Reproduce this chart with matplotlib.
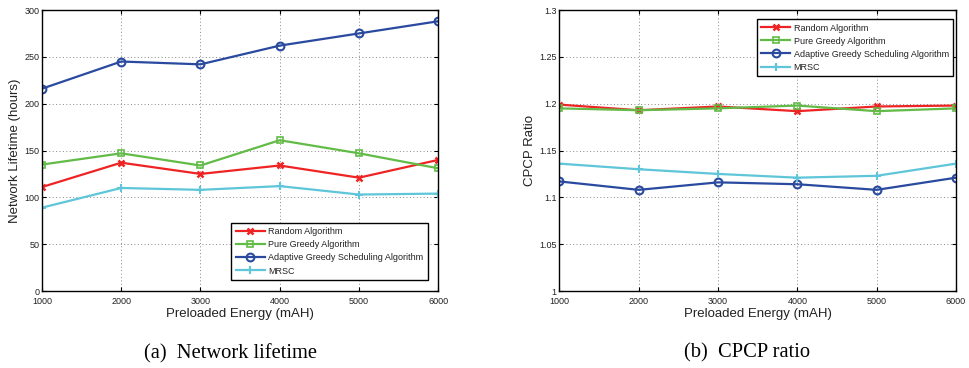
import matplotlib
matplotlib.use("Agg")
import matplotlib.pyplot as plt

plt.rcParams['font.family'] = ['Liberation Sans', 'DejaVu Sans']

energy = [1000, 2000, 3000, 4000, 5000, 6000]
series_names = ["Random Algorithm", "Pure Greedy Algorithm",
                "Adaptive Greedy Scheduling Algorithm", "MRSC"]

# Network lifetime (hours)
life_random = [111, 137, 125, 134, 121, 140]
life_greedy = [135, 147, 134, 161, 147, 131]
life_adaptive = [216, 245, 242, 262, 275, 288]
life_mrsc = [89, 110, 108, 112, 103, 104]

# CPCP ratio
cpcp_random = [1.199, 1.193, 1.197, 1.192, 1.197, 1.198]
cpcp_greedy = [1.195, 1.193, 1.195, 1.198, 1.192, 1.195]
cpcp_adaptive = [1.117, 1.108, 1.116, 1.114, 1.108, 1.121]
cpcp_mrsc = [1.136, 1.130, 1.125, 1.121, 1.123, 1.136]

x_ticks = [1000, 2000, 3000, 4000, 5000, 6000]
life_ticks = [0, 50, 100, 150, 200, 250, 300]
cpcp_ticks = [1, 1.05, 1.1, 1.15, 1.2, 1.25, 1.3]
cpcp_tick_labels = ["1", "1.05", "1.1", "1.15", "1.2", "1.25", "1.3"]

styles = [
    dict(color="#ee2424", marker="x", ms=3.8, mew=1.8),
    dict(color="#62bb46", marker="s", ms=4.5, mfc="none", mew=1.2),
    dict(color="#2a4aa0", marker="o", ms=5.6, mfc="none", mew=1.5),
    dict(color="#5ec6d8", marker="+", ms=6, mew=1.5),
]

fig = plt.figure(figsize=(9.69, 3.68), dpi=100)
ax1 = fig.add_axes([0.0433, 0.2092, 0.409, 0.7636])
ax2 = fig.add_axes([0.5772, 0.2092, 0.4094, 0.7636])


def draw(ax, data, yticks, ylabels, ylim, ylabel, legend_loc, legend_anchor):
    for vals, name, st in zip(data, series_names, styles):
        ax.plot(energy, vals, lw=1.6, label=name, **st)
    ax.set_xlim(1000, 6000)
    ax.set_ylim(*ylim)
    ax.set_xticks(x_ticks)
    ax.set_yticks(yticks)
    if ylabels is not None:
        ax.set_yticklabels(ylabels)
    ax.grid(True, linestyle=(0, (1, 2.5)), color="#888888", lw=0.7)
    ax.tick_params(direction="in", length=3, width=0.8, labelsize=6.5,
                   top=True, right=True, pad=2, colors="black",
                   labelcolor="#222222")
    ax.tick_params(axis="x", pad=4)
    for sp in ax.spines.values():
        sp.set_linewidth(1.0)
        sp.set_color("black")
    ax.set_xlabel("Preloaded Energy (mAH)", fontsize=9.5, labelpad=2,
                  color="#222222")
    ax.set_ylabel(ylabel, fontsize=9.5, labelpad=2, color="#222222")
    leg = ax.legend(loc=legend_loc, bbox_to_anchor=legend_anchor,
                    fontsize=6.5, handlelength=3.2, labelspacing=0.45,
                    borderpad=0.5, handletextpad=0.4, fancybox=False,
                    framealpha=1, edgecolor="black", borderaxespad=0)
    leg.get_frame().set_linewidth(1.0)
    for t in leg.get_texts():
        t.set_color("#222222")


draw(ax1, [life_random, life_greedy, life_adaptive, life_mrsc],
     life_ticks, None, (0, 300), "Network Lifetime (hours)",
     "lower right", (0.974, 0.039))
draw(ax2, [cpcp_random, cpcp_greedy, cpcp_adaptive, cpcp_mrsc],
     cpcp_ticks, cpcp_tick_labels, (1, 1.3), "CPCP Ratio",
     "upper right", (0.993, 0.968))

caption_font = ["Liberation Serif", "DejaVu Serif"]
fig.text(0.238, 0.04, "(a)  Network lifetime", ha="center", va="center",
         fontsize=14.8, family=caption_font)
fig.text(0.7706, 0.04, "(b)  CPCP ratio", ha="center", va="center",
         fontsize=14.8, family=caption_font)

fig.savefig("out.png", dpi=100)
